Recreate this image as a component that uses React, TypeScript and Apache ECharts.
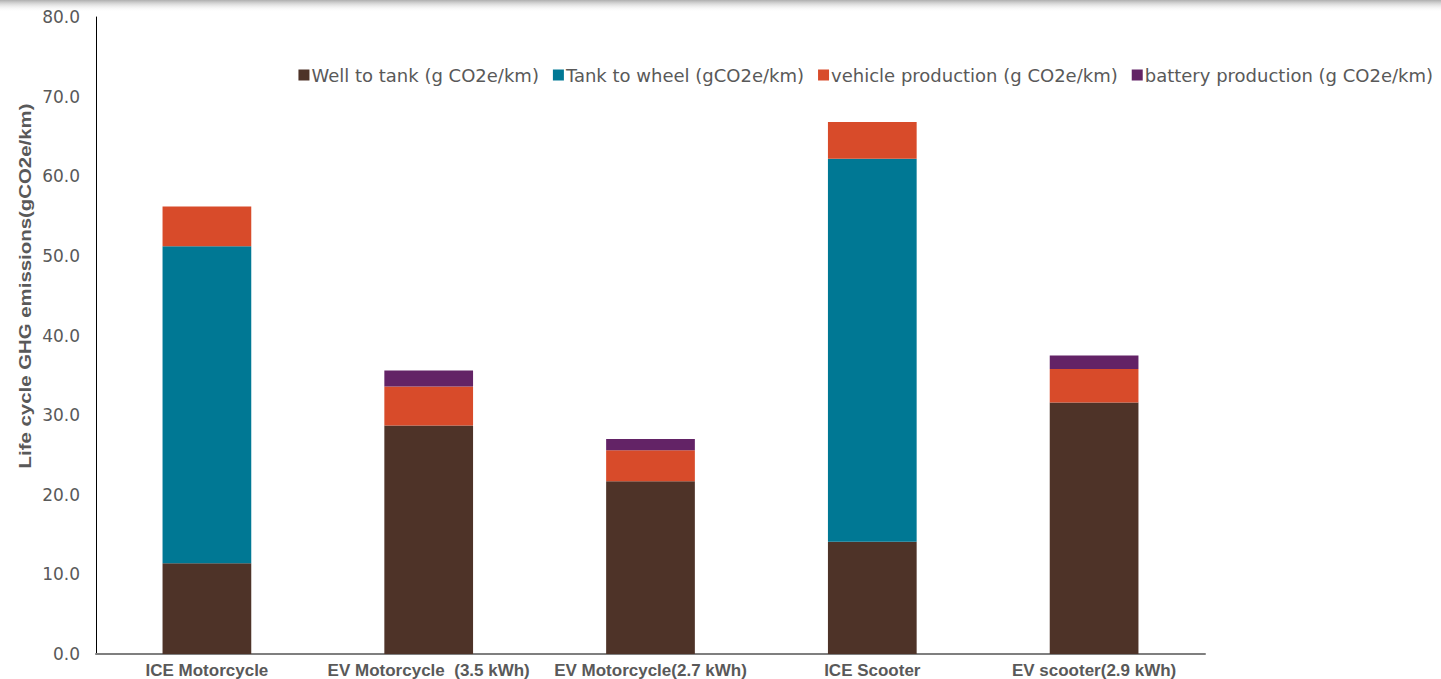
import React, { useEffect, useRef } from "react";
import * as echarts from "echarts";

const categories = [
  "ICE Motorcycle",
  "EV Motorcycle  (3.5 kWh)",
  "EV Motorcycle(2.7 kWh)",
  "ICE Scooter",
  "EV scooter(2.9 kWh)",
];
const seriesNames = [
  "Well to tank (g CO2e/km)",
  "Tank to wheel (gCO2e/km)",
  "vehicle production (g CO2e/km)",
  "battery production (g CO2e/km)",
];
const wellToTank = [11.4, 28.7, 21.7, 14.1, 31.6];
const tankToWheel = [39.8, 0, 0, 48.1, 0];
const vehicleProduction = [5.0, 4.9, 3.9, 4.6, 4.2];
const batteryProduction = [0, 2.0, 1.4, 0, 1.7];
const colors = ["#4E3328", "#007894", "#D84B2A", "#632366"];

export default function App() {
  const ref = useRef<HTMLDivElement>(null);
  useEffect(() => {
    if (!ref.current) return;
    const chart = echarts.init(ref.current, null, { renderer: "svg" });
    const data = [wellToTank, tankToWheel, vehicleProduction, batteryProduction];
    const font = "'Liberation Sans', Arial, Helvetica, sans-serif";
    const wide = "'DejaVu Sans', 'Liberation Sans', sans-serif";
    chart.setOption({
      animation: false,
      textStyle: { fontFamily: font },
      color: colors,
      grid: { left: 96, right: 236, top: 17, bottom: 25, containLabel: false },
      legend: {
        top: 61,
        right: 3,
        itemWidth: 11,
        itemHeight: 11,
        itemGap: 14,
        icon: "rect",
        textStyle: { fontSize: 18, color: "#595959", fontFamily: wide, padding: [0, 0, 0, -3] },
        data: seriesNames,
      },
      graphic: [
        {
          type: "rect",
          left: 0,
          top: 0,
          shape: { width: 1441, height: 12 },
          style: {
            fill: new echarts.graphic.LinearGradient(0, 0, 0, 1, [
              { offset: 0, color: "rgba(160,160,160,0.85)" },
              { offset: 1, color: "rgba(255,255,255,0)" },
            ]),
          },
          silent: true,
        },
        {
          type: "text",
          x: 25,
          y: 286,
          rotation: Math.PI / 2,
          scaleX: 1.2,
          style: {
            text: "Life cycle GHG emissions(gCO2e/km)",
            fontSize: 17,
            fontWeight: "bold",
            fill: "#595959",
            fontFamily: font,
            align: "center",
            verticalAlign: "middle",
          },
        },
      ],
      xAxis: {
        type: "category",
        data: categories,
        axisLine: { lineStyle: { color: "#7f7f7f", width: 2 } },
        axisTick: { show: false },
        axisLabel: {
          fontSize: 17,
          fontWeight: "bold",
          color: "#595959",
          margin: 8,
          interval: 0,
        },
      },
      yAxis: {
        type: "value",
        min: 0,
        max: 80,
        interval: 10,
        axisLine: { show: true, lineStyle: { color: "#000", width: 1 } },
        axisTick: { show: false },
        splitLine: { show: false },
        axisLabel: {
          fontSize: 17,
          color: "#595959",
          fontFamily: wide,
          margin: 16,
          formatter: (v: number) => v.toFixed(1),
        },
      },
      series: seriesNames.map((name, i) => ({
        name,
        type: "bar",
        stack: "total",
        barWidth: "40%",
        data: data[i],
        itemStyle: { color: colors[i] },
      })),
    });
    return () => chart.dispose();
  }, []);
  return (
    <div
      ref={ref}
      style={{ position: "fixed", left: 0, top: 0, width: 1441, height: 679, background: "#fff" }}
    />
  );
}
